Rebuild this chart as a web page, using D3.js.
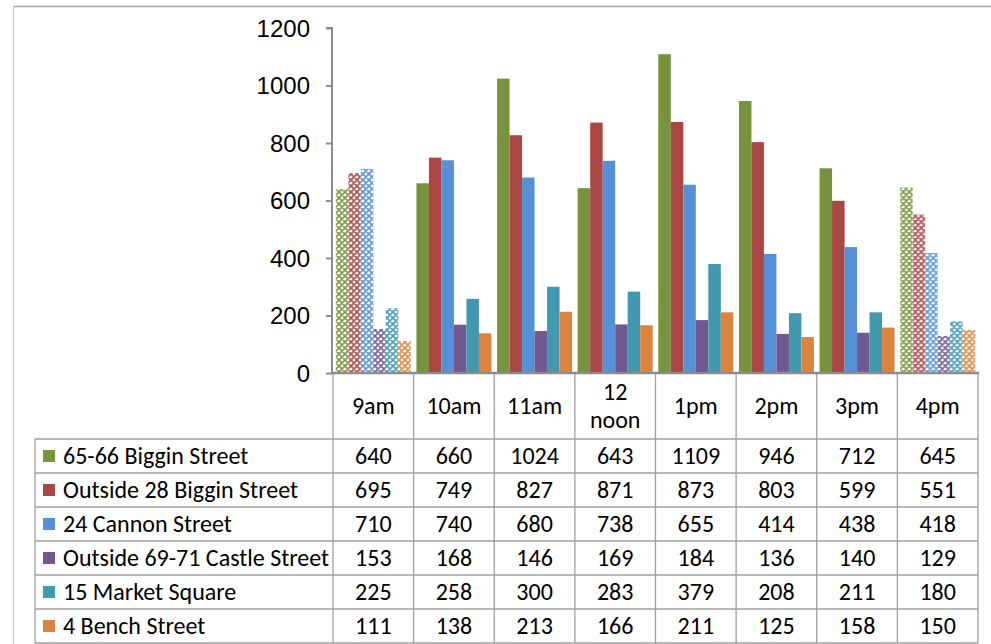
<!DOCTYPE html>
<html>
<head>
<meta charset="utf-8">
<script src="https://cdn.jsdelivr.net/npm/d3@7"></script>
<style>
  html, body { margin: 0; padding: 0; background: #fff; }
  svg { display: block; font-family: Carlito, Lato, "Open Sans", sans-serif; }
</style>
</head>
<body>
<svg id="chart" width="991" height="644"></svg>
<script>
// ---- data ----
const categories = ["9am", "10am", "11am", "12 noon", "1pm", "2pm", "3pm", "4pm"];
const seriesNames = [
  "65-66 Biggin Street",
  "Outside 28 Biggin Street",
  "24 Cannon Street",
  "Outside 69-71 Castle Street",
  "15 Market Square",
  "4 Bench Street"
];
const biggin6566   = [640, 660, 1024, 643, 1109, 946, 712, 645];
const outside28    = [695, 749, 827, 871, 873, 803, 599, 551];
const cannon24     = [710, 740, 680, 738, 655, 414, 438, 418];
const castle6971   = [153, 168, 146, 169, 184, 136, 140, 129];
const market15     = [225, 258, 300, 283, 379, 208, 211, 180];
const bench4       = [111, 138, 213, 166, 211, 125, 158, 150];
const seriesValues = [biggin6566, outside28, cannon24, castle6971, market15, bench4];
const hatchedCategories = ["9am", "4pm"];
const yTicks = [0, 200, 400, 600, 800, 1000, 1200];

// ---- styles ----
const colors = ["#77933c", "#aa4643", "#5690d6", "#71588f", "#4198af", "#db843d"];
const axisColor = "#8c8c8c";
const gridColor = "#a0a0a0";
const fontSize = 24;

const svg = d3.select("#chart");
const plot = { left: 333, right: 978, top: 28, bottom: 373 };
const table = { legendLeft: 35, headerBottom: 439, rowH: 34 };

// patterns
const defs = svg.append("defs");
colors.forEach((c, i) => {
  const p = defs.append("pattern")
    .attr("id", "hatch" + i)
    .attr("patternUnits", "userSpaceOnUse")
    .attr("width", 6).attr("height", 6);
  p.append("rect").attr("width", 6).attr("height", 6).attr("fill", "#fff");
  p.append("path")
    .attr("d", "M0,0L6,6M6,0L0,6M-1,5L1,7M5,-1L7,1M-1,1L1,-1M5,7L7,5")
    .attr("stroke", c).attr("stroke-width", 1.8).attr("stroke-opacity", 0.9);
});

// outer chart border
svg.append("line").attr("x1", 13).attr("x2", 991).attr("y1", 6.5).attr("y2", 6.5)
  .attr("stroke", "#a6a6a6").attr("stroke-width", 1.5);
svg.append("line").attr("x1", 13.5).attr("x2", 13.5).attr("y1", 6).attr("y2", 644)
  .attr("stroke", "#c8c8c8").attr("stroke-width", 1);

// scales
const x = d3.scaleBand().domain(categories).range([plot.left, plot.right]).paddingInner(0).paddingOuter(0);
const xs = d3.scaleBand().domain(d3.range(seriesNames.length)).range([0, x.bandwidth()])
  .paddingInner(0).paddingOuter(0.225);
const y = d3.scaleLinear().domain([0, 1200]).range([plot.bottom, plot.top]);

// bars
const groups = svg.append("g").selectAll("g").data(categories).join("g")
  .attr("transform", d => `translate(${x(d)},0)`);
groups.selectAll("rect")
  .data((cat, ci) => seriesValues.map((vals, si) => ({ cat, si, v: vals[ci] })))
  .join("rect")
  .attr("x", d => xs(d.si))
  .attr("width", xs.bandwidth())
  .attr("y", d => y(d.v))
  .attr("height", d => y(0) - y(d.v))
  .attr("fill", d => hatchedCategories.includes(d.cat) ? `url(#hatch${d.si})` : colors[d.si]);

// y axis
const yAxis = d3.axisLeft(y).tickValues(yTicks).tickFormat(d3.format("d")).tickSize(6).tickPadding(16);
const ya = svg.append("g").attr("transform", `translate(${plot.left - 1},0)`).call(yAxis);
ya.select(".domain").attr("stroke", axisColor).attr("stroke-width", 2).attr("d", `M-6,${plot.top}H0V${plot.bottom}`);
ya.selectAll(".tick line").attr("stroke", axisColor).attr("stroke-width", 2);
ya.selectAll(".tick text").attr("font-size", fontSize).attr("fill", "#000").attr("font-family", null)
  .attr("dy", "0.35em");

// table grid
const nRows = seriesNames.length;
const tableBottom = table.headerBottom + nRows * table.rowH;
const grid = svg.append("g").attr("stroke", gridColor).attr("stroke-width", 1.3);
categories.concat(["__end"]).forEach((c, i) => {
  const xx = i < categories.length ? x(c) : plot.right;
  grid.append("line").attr("x1", xx).attr("x2", xx).attr("y1", plot.bottom).attr("y2", tableBottom);
});
grid.append("line").attr("x1", table.legendLeft).attr("x2", table.legendLeft)
  .attr("y1", table.headerBottom).attr("y2", tableBottom);
for (let r = 0; r <= nRows; r++) {
  const yy = table.headerBottom + r * table.rowH;
  grid.append("line").attr("x1", table.legendLeft).attr("x2", plot.right).attr("y1", yy).attr("y2", yy);
}

// x axis line
svg.append("line").attr("x1", plot.left - 2).attr("x2", plot.right + 1)
  .attr("y1", plot.bottom).attr("y2", plot.bottom)
  .attr("stroke", axisColor).attr("stroke-width", 2.5);

// header labels
const headerMid = (plot.bottom + table.headerBottom) / 2;
svg.append("g").selectAll("text").data(categories).join("text")
  .attr("x", d => x(d) + x.bandwidth() / 2)
  .attr("text-anchor", "middle")
  .attr("font-size", fontSize)
  .each(function (d) {
    const parts = d.split(" ");
    const t = d3.select(this);
    const lh = 28;
    parts.forEach((p, k) => {
      t.append("tspan").attr("x", x(d) + x.bandwidth() / 2)
        .attr("y", headerMid + (k - (parts.length - 1) / 2) * lh)
        .attr("dy", "0.35em").text(p);
    });
  });

// legend rows + values
seriesNames.forEach((name, si) => {
  const top = table.headerBottom + si * table.rowH;
  const mid = top + table.rowH / 2;
  svg.append("rect").attr("x", 43).attr("y", mid - 6).attr("width", 12).attr("height", 12).attr("fill", colors[si]);
  svg.append("text").attr("x", 63).attr("y", mid).attr("dy", "0.35em")
    .attr("font-size", fontSize).text(name);
  svg.append("g").selectAll("text").data(seriesValues[si]).join("text")
    .attr("x", (v, ci) => x(categories[ci]) + x.bandwidth() / 2)
    .attr("y", mid).attr("dy", "0.35em")
    .attr("text-anchor", "middle")
    .attr("font-size", fontSize)
    .text(v => v);
});
</script>
</body>
</html>
